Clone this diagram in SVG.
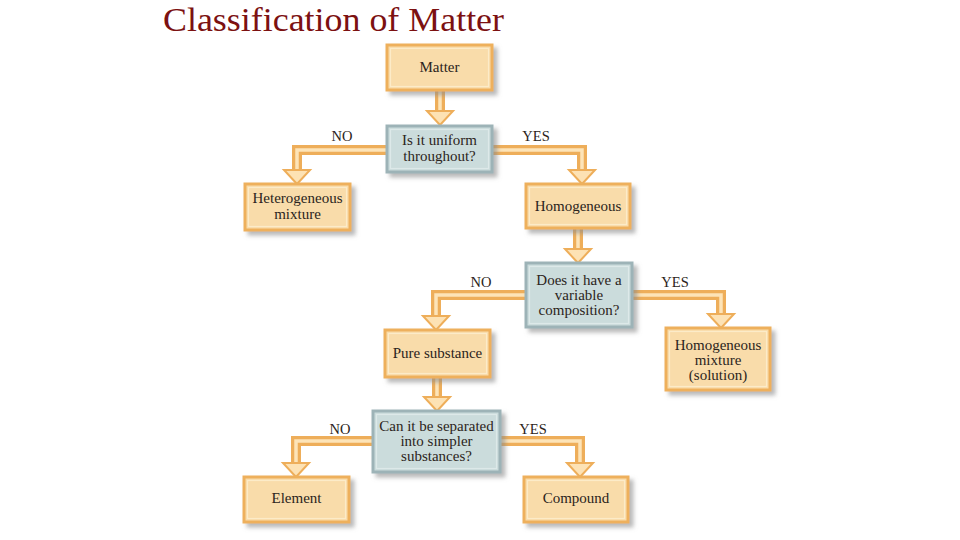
<svg xmlns="http://www.w3.org/2000/svg" width="960" height="540" viewBox="0 0 960 540">
  <defs>
    <filter id="sh" x="-20%" y="-20%" width="140%" height="150%">
      <feDropShadow dx="4" dy="4" stdDeviation="2" flood-color="#8a8a8a" flood-opacity="0.6"/>
    </filter>
    <style>
      .box rect.o { fill: #f9dcaa; stroke: #eeb05c; stroke-width: 3; }
      .box rect.i { fill: none; stroke: #fcebc8; stroke-width: 1.2; }
      .q rect.o { fill: #cbdcdc; stroke: #9db3b7; stroke-width: 3; }
      .q rect.i { fill: none; stroke: #dde9e9; stroke-width: 1.2; }
      text { font-family: "Liberation Serif", "Times New Roman", serif; fill: #2b2420; }
      text.title { font-size: 34px; fill: #7c1111; }
      .t { font-size: 15px; text-anchor: middle; }
      .lbl { font-size: 14.5px; text-anchor: middle; }
      .sh-o { fill: none; stroke: #eeae5a; stroke-width: 10; stroke-linejoin: miter; }
      .sh-i { fill: none; stroke: #fde4b8; stroke-width: 3.5; stroke-linejoin: miter; }
      .head { fill: #fde2b4; stroke: #eeae5a; stroke-width: 2; stroke-linejoin: miter; }
    </style>
  </defs>
  <rect width="960" height="540" fill="#ffffff"/>
  <text class="title" x="163" y="31" textLength="341" lengthAdjust="spacingAndGlyphs">Classification of Matter</text>

  <g id="connectors">
    <g class="shafts">
      <path class="sh-o" d="M440 90 V112"/>
      <path class="sh-o" d="M387 150 H297 V171"/>
      <path class="sh-o" d="M492 150 H582 V171"/>
      <path class="sh-o" d="M578 228 V250"/>
      <path class="sh-o" d="M526 295 H436 V317"/>
      <path class="sh-o" d="M632 295 H721 V315"/>
      <path class="sh-o" d="M437 377 V398"/>
      <path class="sh-o" d="M373 441 H296 V464"/>
      <path class="sh-o" d="M500 441 H580 V464"/>
      <path class="sh-i" d="M440 90 V113"/>
      <path class="sh-i" d="M387 150 H297 V172"/>
      <path class="sh-i" d="M492 150 H582 V172"/>
      <path class="sh-i" d="M578 228 V251"/>
      <path class="sh-i" d="M526 295 H436 V318"/>
      <path class="sh-i" d="M632 295 H721 V316"/>
      <path class="sh-i" d="M437 377 V399"/>
      <path class="sh-i" d="M373 441 H296 V465"/>
      <path class="sh-i" d="M500 441 H580 V465"/>
    </g>
    <g class="heads">
      <polygon class="head" points="427,111 453,111 440,125"/>
      <polygon class="head" points="284,170 310,170 297,184"/>
      <polygon class="head" points="569,170 595,170 582,184"/>
      <polygon class="head" points="565,249 591,249 578,263"/>
      <polygon class="head" points="423,316 449,316 436,330"/>
      <polygon class="head" points="708,314 734,314 721,328"/>
      <polygon class="head" points="424,397 450,397 437,411"/>
      <polygon class="head" points="283,463 309,463 296,477"/>
      <polygon class="head" points="567,463 593,463 580,477"/>
    </g>
    <g class="labels">
      <text class="lbl" x="342" y="141">NO</text>
      <text class="lbl" x="536" y="141">YES</text>
      <text class="lbl" x="481" y="287">NO</text>
      <text class="lbl" x="675" y="287">YES</text>
      <text class="lbl" x="340" y="434">NO</text>
      <text class="lbl" x="533" y="434">YES</text>
    </g>
  </g>

  <g id="matter" class="box">
    <rect class="o" x="387" y="45" width="105" height="45" filter="url(#sh)"/>
    <rect class="i" x="390.5" y="48.5" width="98" height="38"/>
    <text class="t" x="439.5" y="72">Matter</text>
  </g>
  <g id="q-uniform" class="q">
    <rect class="o" x="387" y="126" width="105" height="46" filter="url(#sh)"/>
    <rect class="i" x="390.5" y="129.5" width="98" height="39"/>
    <text class="t" x="439.5" y="145">Is it uniform</text>
    <text class="t" x="439.5" y="161">throughout?</text>
  </g>
  <g id="heterogeneous" class="box">
    <rect class="o" x="245" y="184" width="105" height="46" filter="url(#sh)"/>
    <rect class="i" x="248.5" y="187.5" width="98" height="39"/>
    <text class="t" x="297.5" y="203">Heterogeneous</text>
    <text class="t" x="297.5" y="219">mixture</text>
  </g>
  <g id="homogeneous" class="box">
    <rect class="o" x="526" y="184" width="104" height="44" filter="url(#sh)"/>
    <rect class="i" x="529.5" y="187.5" width="97" height="37"/>
    <text class="t" x="578" y="211">Homogeneous</text>
  </g>
  <g id="q-variable" class="q">
    <rect class="o" x="526" y="263" width="106" height="64" filter="url(#sh)"/>
    <rect class="i" x="529.5" y="266.5" width="99" height="57"/>
    <text class="t" x="579" y="285">Does it have a</text>
    <text class="t" x="579" y="300">variable</text>
    <text class="t" x="579" y="315">composition?</text>
  </g>
  <g id="pure" class="box">
    <rect class="o" x="385" y="330" width="105" height="47" filter="url(#sh)"/>
    <rect class="i" x="388.5" y="333.5" width="98" height="40"/>
    <text class="t" x="437.5" y="358">Pure substance</text>
  </g>
  <g id="solution" class="box">
    <rect class="o" x="666" y="328" width="104" height="62" filter="url(#sh)"/>
    <rect class="i" x="669.5" y="331.5" width="97" height="55"/>
    <text class="t" x="718" y="350">Homogeneous</text>
    <text class="t" x="718" y="365">mixture</text>
    <text class="t" x="718" y="380">(solution)</text>
  </g>
  <g id="q-separated" class="q">
    <rect class="o" x="373" y="411" width="127" height="61" filter="url(#sh)"/>
    <rect class="i" x="376.5" y="414.5" width="120" height="54"/>
    <text class="t" x="436.5" y="431">Can it be separated</text>
    <text class="t" x="436.5" y="446">into simpler</text>
    <text class="t" x="436.5" y="461">substances?</text>
  </g>
  <g id="element" class="box">
    <rect class="o" x="244" y="477" width="105" height="45" filter="url(#sh)"/>
    <rect class="i" x="247.5" y="480.5" width="98" height="38"/>
    <text class="t" x="296.5" y="503">Element</text>
  </g>
  <g id="compound" class="box">
    <rect class="o" x="524" y="477" width="104" height="45" filter="url(#sh)"/>
    <rect class="i" x="527.5" y="480.5" width="97" height="38"/>
    <text class="t" x="576" y="503">Compound</text>
  </g>
</svg>
